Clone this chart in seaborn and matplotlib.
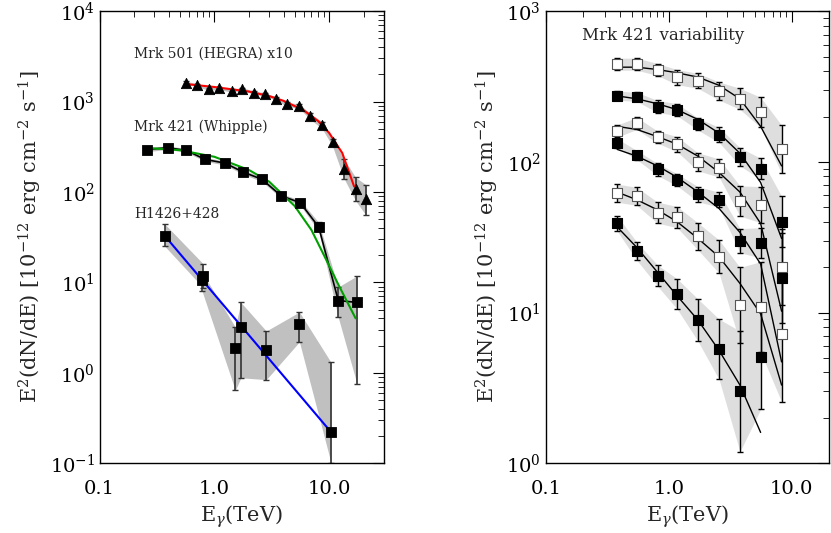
import numpy as np
import pandas as pd
import matplotlib
matplotlib.use("Agg")
import matplotlib.pyplot as plt
import seaborn as sns

# ---- left panel data ----
e501 = [0.56, 0.71, 0.89, 1.1, 1.41, 1.74, 2.19, 2.75, 3.47, 4.3, 5.5, 6.8, 8.7, 10.7, 13.5, 17, 21]
f501 = [1620, 1520, 1380, 1410, 1320, 1380, 1260, 1200, 1080, 930, 890, 690, 550, 355, 180, 107, 83]
f501_lo = [1560, 1460, 1330, 1360, 1270, 1330, 1210, 1150, 1030, 880, 840, 640, 500, 320, 140, 80, 55]
f501_hi = [1680, 1580, 1430, 1460, 1370, 1430, 1310, 1250, 1130, 980, 940, 740, 600, 390, 230, 145, 120]
fit501_e = [0.6, 1.0, 2.0, 3.0, 4.0, 6.0, 8.0, 10.0, 13.0, 16.5]
fit501_f = [1550, 1450, 1290, 1150, 1020, 800, 610, 450, 270, 115]

e421 = [0.26, 0.39, 0.57, 0.83, 1.23, 1.78, 2.6, 3.8, 5.6, 8.1, 12, 17.5]
f421 = [295, 309, 288, 229, 209, 166, 138, 91, 76, 41, 6.3, 6.0]
f421_lo = [280, 295, 275, 218, 199, 157, 130, 86, 71, 37, 4.1, 0.75]
f421_hi = [310, 324, 302, 241, 220, 176, 146, 96, 81, 46, 8.9, 11.8]
fit421_e = [0.28, 0.5, 1.0, 2.0, 3.0, 5.0, 7.0, 9.0, 12.0, 17.0]
fit421_f = [305, 290, 245, 175, 130, 70, 38, 20, 9.5, 4.0]

e1426 = [0.37, 0.80, 0.78, 1.52, 1.70, 2.83, 5.5, 10.4]
f1426 = [33, 11.7, 10.5, 1.9, 3.2, 1.8, 3.5, 0.22]
f1426_lo = [25, 8.7, 8.0, 0.64, 0.88, 0.84, 2.2, 0.1]
f1426_hi = [44, 16, 13, 3.2, 6.0, 2.9, 4.7, 1.3]
fit1426_e = [0.4, 10.4]
fit1426_f = [29, 0.22]

# ---- right panel data: Mrk 421 variability ----
e_var = [0.38, 0.55, 0.81, 1.17, 1.73, 2.57, 3.8, 5.6, 8.3]
var_f = [
    [445, 445, 410, 365, 345, 295, 262, 213, 121],
    [275, 270, 233, 222, 178, 151, 108, 90, 40],
    [160, 180, 146, 131, 100, 91, 55, 52, 20],
    [133, 111, 89, 76, 61, 56, 30, 29, 17],
    [62, 59, 46, 43, 32, 23.5, 11.2, 10.9, 7.2],
    [39, 25.5, 17.6, 13.3, 8.9, 5.7, 3.0, 5.1],
]
var_err = [
    [0.04, 0.04, 0.04, 0.05, 0.05, 0.06, 0.07, 0.10, 0.16],
    [0.03, 0.03, 0.04, 0.04, 0.04, 0.05, 0.06, 0.07, 0.17],
    [0.04, 0.04, 0.04, 0.05, 0.06, 0.06, 0.10, 0.12, 0.25],
    [0.03, 0.03, 0.04, 0.04, 0.05, 0.05, 0.08, 0.10, 0.30],
    [0.06, 0.06, 0.07, 0.07, 0.09, 0.11, 0.25, 0.30, 0.45],
    [0.05, 0.06, 0.07, 0.10, 0.14, 0.20, 0.40, 0.35],
]
var_open = [True, False, True, False, True, False]
var_fit = [
    [425, 425, 410, 390, 365, 322, 262, 172, 94],
    [274, 262, 243, 222, 191, 155, 114, 73, 31],
    [172, 164, 147, 131, 109, 85, 63, 39, 10.2],
    [121, 109, 94, 79, 63, 49, 34, 21, 4.7],
    [63, 56, 48, 40, 31, 23.4, 15.6, 9.8, 3.3],
    [37, 27, 18.5, 12.9, 8.9, 5.6, 3.3, 1.6],
]

sns.set_style("white")
plt.rcParams["font.family"] = ["DejaVu Serif"]
plt.rcParams["mathtext.fontset"] = "dejavuserif"

fig = plt.figure(figsize=(8.31, 5.33), dpi=100)
ax1 = fig.add_axes([0.120, 0.131, 0.342, 0.848])
ax2 = fig.add_axes([0.657, 0.131, 0.340, 0.848])


def style_axis(ax, xlim, ylim):
    ax.set_xscale("log")
    ax.set_yscale("log")
    ax.set_xlim(*xlim)
    ax.set_ylim(*ylim)
    for s in ax.spines.values():
        s.set_color("black")
        s.set_linewidth(1.0)
    ax.tick_params(which="both", direction="in", top=True, right=True, colors="black", labelsize=14)
    ax.tick_params(which="major", length=8)
    ax.tick_params(which="minor", length=4)
    ax.set_xticks([0.1, 1, 10])
    ax.set_xticklabels(["0.1", "1.0", "10.0"])
    ax.tick_params(axis="x", pad=12)
    ax.set_xlabel(r"E$_\gamma$(TeV)", fontsize=15)
    ax.set_ylabel(r"E$^2$(dN/dE) [10$^{-12}$ erg cm$^{-2}$ s$^{-1}$]", fontsize=15)


# left panel
def source(ax, e, f, lo, hi, fit_e, fit_f, fitcol, marker, connect):
    ax.fill_between(e, lo, hi, color="#c0c0c0", lw=0, zorder=1)
    if connect:
        sns.lineplot(x=e, y=f, ax=ax, color="black", lw=1.2, sort=False, zorder=3)
    ax.errorbar(e, f, yerr=[np.array(f) - np.array(lo), np.array(hi) - np.array(f)],
                fmt="none", ecolor="#333333", elinewidth=1.2, capsize=2, zorder=2)
    sns.lineplot(x=fit_e, y=fit_f, ax=ax, color=fitcol, lw=1.5, zorder=4)
    sns.scatterplot(x=e, y=f, ax=ax, marker=marker, color="black", s=55,
                    edgecolor="black", zorder=5)


source(ax1, e501, f501, f501_lo, f501_hi, fit501_e, fit501_f, "red", "^", False)
source(ax1, e421, f421, f421_lo, f421_hi, fit421_e, fit421_f, "#00a000", "s", True)
source(ax1, e1426, f1426, f1426_lo, f1426_hi, fit1426_e, fit1426_f, "blue", "s", False)
style_axis(ax1, (0.1, 30), (0.1, 1e4))
ax1.text(0.2, 3400, "Mrk 501 (HEGRA) x10", fontsize=10, va="center")
ax1.text(0.2, 520, "Mrk 421 (Whipple)", fontsize=10, va="center")
ax1.text(0.2, 57, "H1426+428", fontsize=10, va="center")

# right panel
for f, err, op, fit in zip(var_f, var_err, var_open, var_fit):
    n = len(f)
    e = np.array(e_var[:n])
    f = np.array(f)
    err = np.array(err)
    lo = f * 10 ** (-err)
    hi = f * 10 ** err
    ax2.fill_between(e, lo, hi, color="#dedede", lw=0, zorder=1)
    ax2.errorbar(e, f, yerr=[f - lo, hi - f], fmt="none", ecolor="black",
                 elinewidth=1.0, capsize=2, zorder=2)
    sns.lineplot(x=e_var[:len(fit)], y=fit, ax=ax2, color="black", lw=1.0, zorder=3)
    sns.scatterplot(x=e, y=f, ax=ax2, marker="s", s=45,
                    color="white" if op else "black", edgecolor="#555555" if op else "black",
                    linewidth=0.8, zorder=4)
style_axis(ax2, (0.1, 20), (1, 1000))
ax2.text(0.196, 690, "Mrk 421 variability", fontsize=12, va="center")

fig.savefig("out.png", dpi=100)
